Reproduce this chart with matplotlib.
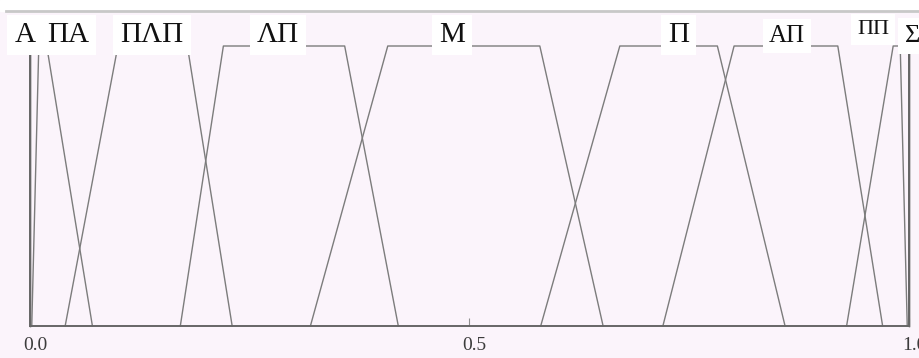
import matplotlib
matplotlib.use("Agg")
import matplotlib.pyplot as plt
import matplotlib.transforms as mtransforms
from matplotlib.patches import Rectangle
from matplotlib.lines import Line2D

# -------- membership functions (trapezoids: a, b, c, d) --------
set_names = ["A", "ΠA", "ΠΛΠ", "ΛΠ", "M", "Π", "AΠ", "ΠΠ", "Σ"]
pts_a = [0.000, 0.002, 0.040, 0.171, 0.319, 0.581, 0.720, 0.929, 1.000]
pts_b = [0.000, 0.010, 0.100, 0.220, 0.407, 0.671, 0.801, 0.982, 1.000]
pts_c = [0.000, 0.019, 0.179, 0.358, 0.580, 0.782, 0.919, 0.990, 1.000]
pts_d = [0.000, 0.071, 0.230, 0.419, 0.652, 0.859, 0.970, 0.998, 1.000]

# label positions
label_x = [-0.006, 0.043, 0.139, 0.282, 0.480, 0.738, 0.861, 0.959, 1.004]
label_y = [1.014, 1.014, 1.014, 1.014, 1.014, 1.014, 1.014, 1.043, 1.014]
label_size = [21, 21, 21, 21, 21, 21, 18, 16, 19]

tick_vals = [0.0, 0.5, 1.0]
tick_text = ["0.0", "0.5", "1.0"]

PINK = "#fbf4fb"
W, H = 920, 358

fig = plt.figure(figsize=(W / 100, H / 100), dpi=100, facecolor=PINK)
fig.add_artist(Rectangle((0, (H - 11) / H), 1, 11 / H, transform=fig.transFigure,
                         color="white", zorder=0))
fig.add_artist(Line2D([6 / W, 1], [(H - 11) / H] * 2, transform=fig.transFigure,
                      color="#c8c8c8", lw=2))

ax = fig.add_axes([30 / W, 32 / H, 879 / W, 280 / H])
ax.set_facecolor(PINK)
ax.set_xlim(0, 1)
ax.set_ylim(0, 1)

for i in range(len(set_names)):
    xs = [pts_a[i], pts_b[i], pts_c[i], pts_d[i]]
    ys = [0, 1, 1, 0]
    ax.plot(xs, ys, color="#7c7c7c", lw=1.0, clip_on=False, zorder=2)
    ax.text(label_x[i], label_y[i], set_names[i], ha="center", va="baseline",
            fontsize=label_size[i], family=["Liberation Serif", "DejaVu Serif"],
            color="#111111", clip_on=False, zorder=3,
            bbox=dict(boxstyle="square,pad=0.25", fc="white", ec="none"))

for side in ["left", "right", "bottom"]:
    ax.spines[side].set_color("#666666")
    ax.spines[side].set_linewidth(1.4)
ax.spines["top"].set_visible(False)

ax.set_yticks([])
ax.set_xticks(tick_vals)
ax.set_xticklabels(tick_text, family="Liberation Serif", fontsize=14, color="#3c3c3c")
ax.tick_params(axis="x", direction="in", length=6, color="#909090", pad=8)
shift = mtransforms.ScaledTranslation(5 / 100, 0, fig.dpi_scale_trans)
for lab in ax.get_xticklabels():
    lab.set_transform(lab.get_transform() + shift)

fig.savefig("out.png", dpi=100, facecolor=PINK)
